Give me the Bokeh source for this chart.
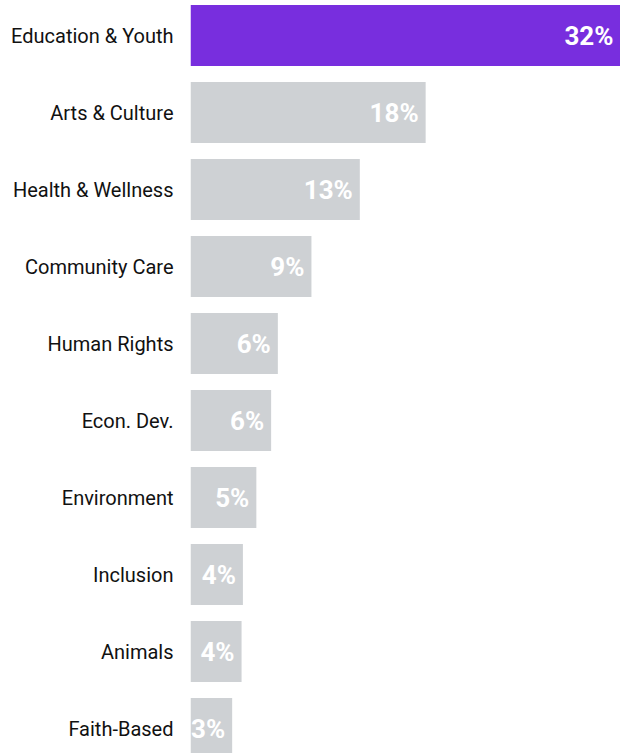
from bokeh.plotting import figure
from bokeh.models import ColumnDataSource, Range1d, FixedTicker
from bokeh.embed import file_html
from bokeh.resources import INLINE
from bokeh.core.properties import value

categories = ["Education & Youth", "Arts & Culture", "Health & Wellness", "Community Care",
              "Human Rights", "Econ. Dev.", "Environment", "Inclusion", "Animals", "Faith-Based"]
shares = [32, 17.5, 12.6, 9.0, 6.5, 6.0, 4.9, 3.9, 3.8, 3.1]
share_labels = ["32%", "18%", "13%", "9%", "6%", "6%", "5%", "4%", "4%", "3%"]
highlight = "Education & Youth"

PURPLE = "#782ede"
GREY = "#ced1d4"
FONT = "Roboto"

n = len(categories)
ys = [n - 1 - i for i in range(n)]
colors = [PURPLE if c == highlight else GREY for c in categories]

src = ColumnDataSource(dict(y=ys, share=shares, label=share_labels, color=colors, cat=categories))

H = 753
PITCH = 77
top = (n - 1) + 35 / PITCH
p = figure(width=620, height=H, output_backend="svg", toolbar_location=None,
           x_range=Range1d(0, 32), y_range=Range1d(top - H / PITCH, top),
           x_axis_location=None, min_border_left=190, min_border_right=0,
           min_border_top=0, min_border_bottom=0)
p.outline_line_color = None
p.grid.visible = False
p.background_fill_color = "white"
p.border_fill_color = "white"

p.hbar(y="y", left=0, right="share", height=61 / PITCH, fill_color="color",
       line_color=None, source=src)
p.text(x="share", y="y", text="label", x_offset=-7, text_align="right",
       text_baseline="middle", text_color="white", text_font=value(FONT),
       text_font_style="bold", text_font_size="26px", source=src)

ax = p.yaxis[0]
ax.ticker = FixedTicker(ticks=ys)
ax.major_label_overrides = {y: c for y, c in zip(ys, categories)}
ax.axis_line_color = None
ax.major_tick_line_color = None
ax.minor_tick_line_color = None
ax.major_label_standoff = 11
ax.major_label_text_font = FONT
ax.major_label_text_font_size = "20px"
ax.major_label_text_color = "#111111"

open("out.html", "w").write(file_html(p, INLINE))
